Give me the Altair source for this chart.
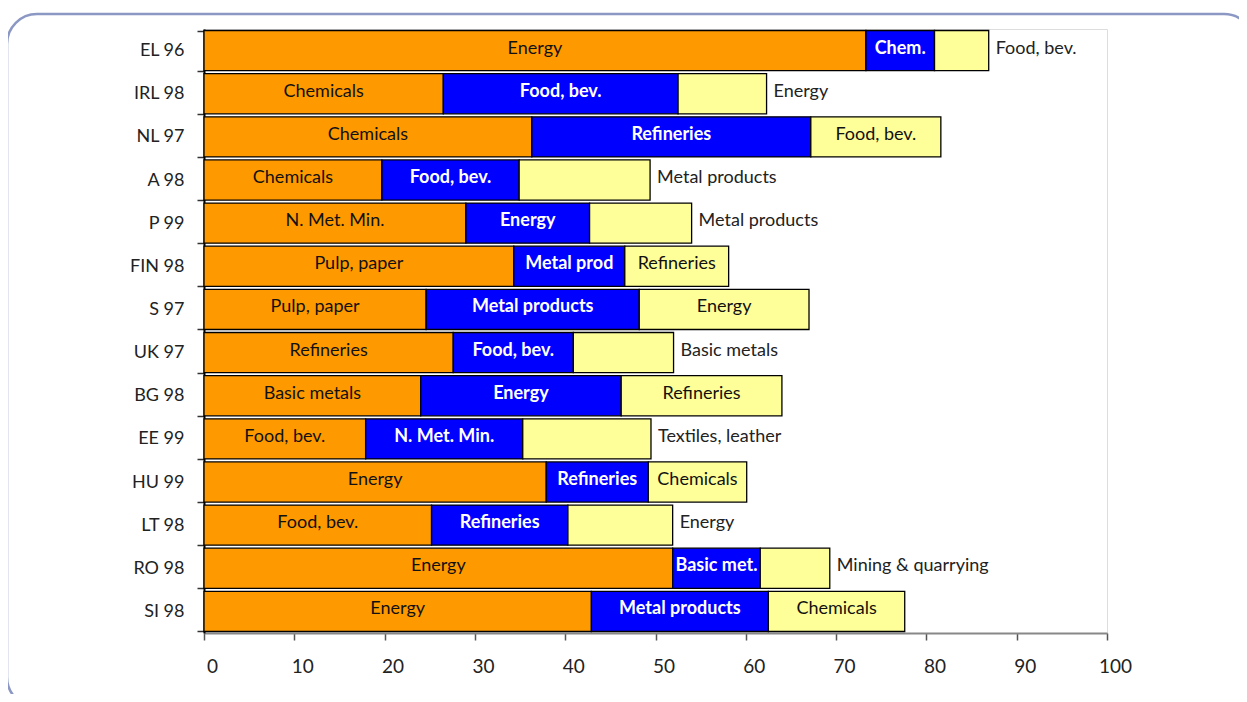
import altair as alt
import pandas as pd

countries = ["EL 96", "IRL 98", "NL 97", "A 98", "P 99", "FIN 98", "S 97",
             "UK 97", "BG 98", "EE 99", "HU 99", "LT 98", "RO 98", "SI 98"]

first_share = [73.3, 26.5, 36.3, 19.7, 29.0, 34.3, 24.6, 27.6, 24.0, 17.9, 37.9, 25.2, 51.9, 42.9]
second_share = [7.6, 26.0, 30.9, 15.2, 13.7, 12.3, 23.6, 13.3, 22.2, 17.4, 11.3, 15.1, 9.7, 19.6]
third_share = [6.0, 9.8, 14.4, 14.5, 11.3, 11.5, 18.8, 11.1, 17.8, 14.2, 10.9, 11.6, 7.7, 15.1]

first_label = ["Energy", "Chemicals", "Chemicals", "Chemicals", "N. Met. Min.", "Pulp, paper",
               "Pulp, paper", "Refineries", "Basic metals", "Food, bev.", "Energy", "Food, bev.",
               "Energy", "Energy"]
second_label = ["Chem.", "Food, bev.", "Refineries", "Food, bev.", "Energy", "Metal prod",
                "Metal products", "Food, bev.", "Energy", "N. Met. Min.", "Refineries",
                "Refineries", "Basic met.", "Metal products"]
third_label = ["Food, bev.", "Energy", "Food, bev.", "Metal products", "Metal products",
               "Refineries", "Energy", "Basic metals", "Refineries", "Textiles, leather",
               "Chemicals", "Energy", "Mining & quarrying", "Chemicals"]
third_inside = [False, False, True, False, False, True, True, False, True, False, True,
                False, False, True]

x_ticks = [0, 10, 20, 30, 40, 50, 60, 70, 80, 90, 100]

rows = []
for i, c in enumerate(countries):
    a = first_share[i]
    b = a + second_share[i]
    t = b + third_share[i]
    rows.append(dict(country=c, seg="first", start=0.0, end=a, label=first_label[i], inside=True))
    rows.append(dict(country=c, seg="second", start=a, end=b, label=second_label[i], inside=True))
    rows.append(dict(country=c, seg="third", start=b, end=t, label=third_label[i], inside=third_inside[i]))
df = pd.DataFrame(rows)
df["mid"] = (df["start"] + df["end"]) / 2

FONT = "Lato"
TS = 18

y_enc = alt.Y("country:N", sort=countries, title=None,
              scale=alt.Scale(paddingInner=0.07, paddingOuter=0.035),
              axis=alt.Axis(domainColor="#000000", domainWidth=2, tickBand="extent",
                            tickSize=7, tickColor="#333333", tickWidth=1.5,
                            labelFontSize=18, labelPadding=13, labelColor="#222222",
                            labelFont=FONT))

x_scale = alt.Scale(domain=[0, 100], nice=False)

base = alt.Chart(df)

bars = base.mark_bar(stroke="#000000", strokeWidth=1.3).encode(
    x=alt.X("start:Q", scale=x_scale, title=None,
            axis=alt.Axis(values=x_ticks, grid=False, domainColor="#888888", domainWidth=2,
                          tickColor="#555555", tickSize=7, tickWidth=1.5, labelOffset=8,
                          labelFlush=False, labelFontSize=19, labelPadding=17,
                          labelColor="#222222", labelFont=FONT)),
    x2="end:Q",
    y=y_enc,
    color=alt.Color("seg:N", scale=alt.Scale(domain=["first", "second", "third"],
                                             range=["#FF9900", "#0000FF", "#FFFF99"]),
                    legend=None),
)

txt_first = base.transform_filter(alt.datum.seg == "first").mark_text(
    font=FONT, fontSize=TS, color="#111111", baseline="middle", dy=-2
).encode(x=alt.X("mid:Q", scale=x_scale), y=alt.Y("country:N", sort=countries), text="label:N")

txt_second = base.transform_filter(alt.datum.seg == "second").mark_text(
    font=FONT, fontSize=TS, fontWeight="bold", color="#FFFFFF", baseline="middle", dy=-2
).encode(x=alt.X("mid:Q", scale=x_scale), y=alt.Y("country:N", sort=countries), text="label:N")

txt_third_in = base.transform_filter(
    (alt.datum.seg == "third") & (alt.datum.inside == True)
).mark_text(
    font=FONT, fontSize=TS, color="#111111", baseline="middle", dy=-2
).encode(x=alt.X("mid:Q", scale=x_scale), y=alt.Y("country:N", sort=countries), text="label:N")

txt_third_out = base.transform_filter(
    (alt.datum.seg == "third") & (alt.datum.inside == False)
).mark_text(
    font=FONT, fontSize=TS, color="#222222", baseline="middle", align="left", dx=7, dy=-2
).encode(x=alt.X("end:Q", scale=x_scale), y=alt.Y("country:N", sort=countries), text="label:N")

frame = alt.Chart(pd.DataFrame({"d": [0]})).mark_rect(
    fill="transparent", stroke="#8C98C4", strokeWidth=2.5, cornerRadius=30
).encode(x=alt.value(-197), x2=alt.value(1050), y=alt.value(-15), y2=alt.value(678))

chart = alt.layer(frame, bars, txt_first, txt_second, txt_third_in, txt_third_out).properties(
    width=903, height=604,
    autosize=alt.AutoSizeParams(type="none"),
    padding={"left": 196, "top": 21, "right": 132, "bottom": 61},
).configure_view(stroke=None).configure(background="#FFFFFF")

chart.save("out.html", embed_options={"renderer": "svg", "actions": False})
